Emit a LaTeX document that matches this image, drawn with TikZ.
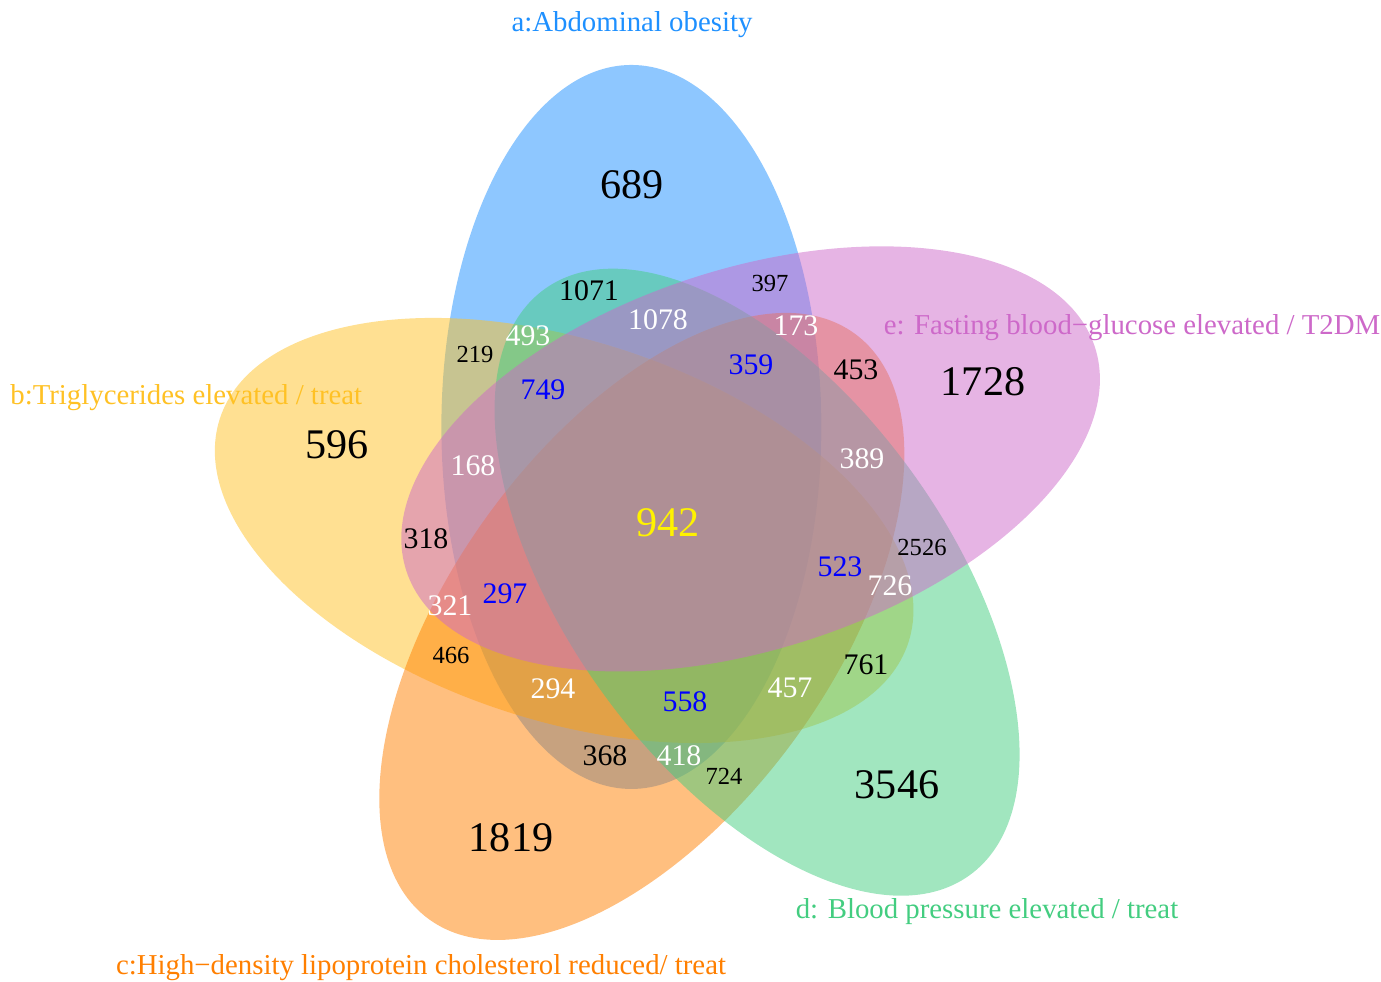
\documentclass[tikz,border=0pt]{standalone}
\usepackage{fontspec}
\setmainfont{Liberation Serif}
\usepackage{tikz}

\definecolor{dodgerblue}{HTML}{1E90FF}
\definecolor{goldenrodone}{HTML}{FFC125}
\definecolor{darkorangeone}{HTML}{FF7F00}
\definecolor{seagreenthree}{HTML}{43CD80}
\definecolor{orchidthree}{HTML}{CD69C9}

\tikzset{
	setfill/.style={fill=#1, fill opacity=0.5},
	bignum/.style={font=\fontsize{24}{28}\selectfont},
	midnum/.style={font=\fontsize{17}{20}\selectfont},
	smallnum/.style={font=\fontsize{14}{17}\selectfont},
	setlabel/.style={text=#1, inner sep=0pt, font=\fontsize{16.4}{19}\selectfont}
}

\begin{document}
\begin{tikzpicture}[x=0.02cm, y=0.02cm]

	\useasboundingbox (0, 0) rectangle (1381, 982);
	\coordinate (c) at (669, 457);

	% five ellipses, a b c d e
	\foreach \ang/\col in {111/dodgerblue, -177/goldenrodone, -105/darkorangeone, -33/seagreenthree, 39/orchidthree} {
		\fill [setfill=\col] (c) ++(\ang:105) ellipse [x radius=362, y radius=190, rotate=\ang-21];
	}

	\foreach \x/\y/\v/\c in {632/797/689/black, 337/537/596/black, 983/600/1728/black, 897/197/3546/black, 511/144/1819/black, 668/459/942/yellow} {
		\node [bignum, text=\c] (r\v) at (\x, \y) {\v};
	}

	\foreach \x/\y/\v/\c in {589/691/1071/black, 658/662/1078/white, 796/656/173/white, 528/646/493/white,
		751/617/359/blue, 856/612/453/black, 543/592/749/blue, 473/516/168/white, 862/523/389/white,
		426/443/318/black, 840/415/523/blue, 890/396/726/white, 505/388/297/blue, 450/376/321/white,
		866/317/761/black, 553/293/294/white, 790/294/457/white, 685/280/558/blue, 605/226/368/black,
		679/226/418/white} {
		\node [midnum, text=\c] (r\v) at (\x, \y) {\v};
	}

	\foreach \x/\y/\v in {770/699/397, 475/628/219, 922/435/2526, 451/327/466, 724/206/724} {
		\node [smallnum] (r\v) at (\x, \y) {\v};
	}

	\node [setlabel=dodgerblue] (la) at (632, 957) {a:Abdominal obesity};
	\node [setlabel=goldenrodone, anchor=west] (lb) at (10, 584) {b:Triglycerides elevated / treat};
	\node [setlabel=darkorangeone] (lc) at (421, 14) {c:High−density lipoprotein cholesterol reduced/ treat};
	\node [setlabel=seagreenthree] (ld) at (987, 70) {d: Blood pressure elevated / treat};
	\node [setlabel=orchidthree] (le) at (1132, 654) {e: Fasting blood−glucose elevated / T2DM};

\end{tikzpicture}
\end{document}
